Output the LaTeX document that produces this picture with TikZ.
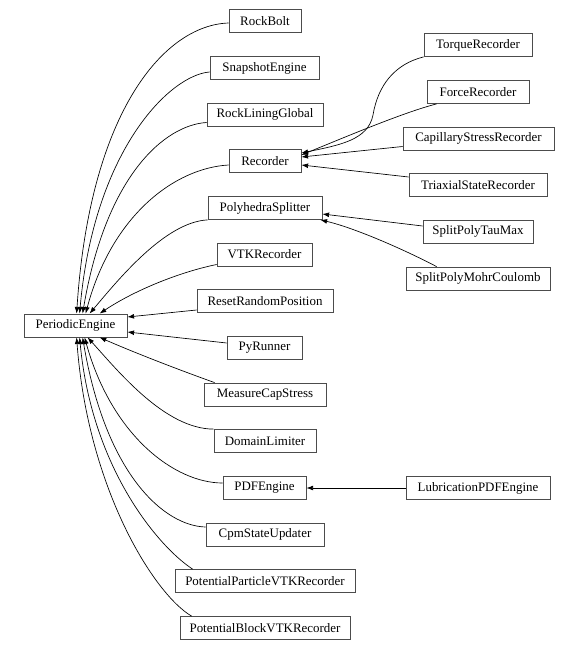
\documentclass[tikz,border=0pt]{standalone}
\usepackage{fontspec}
\setmainfont{Liberation Serif}
\usetikzlibrary{calc,arrows.meta}
\begin{document}
\begin{tikzpicture}[x=0.75pt,y=-0.75pt,
  box/.style={draw=black!70, line width=0.6pt, minimum height=17.25pt, inner sep=0pt,
    font=\fontsize{9.7}{11}\selectfont, fill=white},
  edge/.style={line width=0.5pt, black, -{Latex[length=5pt,width=3.6pt]}}]
\useasboundingbox (0,0) rectangle (578,650);
% left column
\node[box, minimum width=77.25pt] (pe) at (75.5,325.5) {PeriodicEngine};
% middle column
\node[box, minimum width=54pt]    (rb)  at (265,21)    {RockBolt};
\node[box, minimum width=81.75pt] (se)  at (264.5,68)  {SnapshotEngine};
\node[box, minimum width=87pt]    (rl)  at (265,114.5) {RockLiningGlobal};
\node[box, minimum width=54pt]    (rec) at (265,161)   {Recorder};
\node[box, minimum width=85.5pt]  (ps)  at (265,208)   {PolyhedraSplitter};
\node[box, minimum width=71.25pt] (vtk) at (264.5,254.5) {VTKRecorder};
\node[box, minimum width=102pt]   (rr)  at (265,301)   {ResetRandomPosition};
\node[box, minimum width=56.25pt] (py)  at (264.5,348) {PyRunner};
\node[box, minimum width=91.5pt]  (mc)  at (265,394.5) {MeasureCapStress};
\node[box, minimum width=76.5pt]  (dl)  at (265,441)   {DomainLimiter};
\node[box, minimum width=62.25pt] (pdf) at (264.5,488) {PDFEngine};
\node[box, minimum width=88.5pt]  (cpm) at (265,534.5) {CpmStateUpdater};
\node[box, minimum width=135pt]   (pp)  at (265,581)   {PotentialParticleVTKRecorder};
\node[box, minimum width=127.5pt] (pb)  at (265,628)   {PotentialBlockVTKRecorder};
% right column
\node[box, minimum width=81pt]    (tq)  at (478,45)    {TorqueRecorder};
\node[box, minimum width=76.5pt]  (fr)  at (478,92)    {ForceRecorder};
\node[box, minimum width=113.25pt] (cap) at (478.5,138.5) {CapillaryStressRecorder};
\node[box, minimum width=103.5pt] (tri) at (478,185)   {TriaxialStateRecorder};
\node[box, minimum width=82.5pt]  (spt) at (478,231.5) {SplitPolyTauMax};
\node[box, minimum width=108pt]   (spm) at (478,278.5) {SplitPolyMohrCoulomb};
\node[box, minimum width=108pt]   (lub) at (478,488)   {LubricationPDFEngine};
% edges into PeriodicEngine (top)
\draw[edge] ($(rb.west)+(0,2)$) .. controls (165,25) and (90,110) .. ($(pe.north west)+(53,0)$);
\draw[edge] ($(se.west)+(0,4)$) .. controls (170,75) and (94,150) .. ($(pe.north west)+(56,0)$);
\draw[edge] ($(rl.west)+(0,8)$) .. controls (165,125) and (106,175) .. ($(pe.north west)+(59,0)$);
\draw[edge] ($(rec.west)+(0,4)$) .. controls (175,168) and (112,215) .. ($(pe.north west)+(62,0)$);
\draw[edge] (ps.south west) .. controls (165,222) and (118,280) .. ($(pe.north west)+(66,0)$);
\draw[edge] ($(vtk.west)+(0,10)$) .. controls (180,272) and (135,290) .. ($(pe.north west)+(76,0)$);
% straight ones
\draw[edge] ($(rr.west)+(0,9)$) -- ($(pe.east)+(0,-8.5)$);
\draw[edge] ($(py.west)+(0,-5)$) -- ($(pe.east)+(0,6.5)$);
% edges into PeriodicEngine (bottom)
\draw[edge] ($(mc.north west)+(11,0)$) .. controls (185,372) and (140,355) .. ($(pe.south west)+(76,0)$);
\draw[edge] (dl.north west) .. controls (165,429) and (118,371) .. ($(pe.south west)+(64,0)$);
\draw[edge] ($(pdf.west)+(0,-5)$) .. controls (175,483) and (112,436) .. ($(pe.south west)+(61,0)$);
\draw[edge] ($(cpm.west)+(0,-7.5)$) .. controls (165,526) and (106,476) .. ($(pe.south west)+(59,0)$);
\draw[edge] ($(pp.north west)+(18,0)$) .. controls (160,548) and (92,470) .. ($(pe.south west)+(56,0)$);
\draw[edge] ($(pb.north west)+(12,0)$) .. controls (155,595) and (88,490) .. ($(pe.south west)+(53,0)$);
% edges into Recorder
\draw[edge] (tq.south west) .. controls (395,64) and (378,85) .. (373,115)
  .. controls (368,140) and (340,145) .. ($(rec.east)+(0,-8)$);
\draw[edge] ($(fr.south west)+(10,0)$) .. controls (405,112) and (350,135) .. ($(rec.east)+(0,-6)$);
\draw[edge] ($(cap.west)+(0,8)$) -- ($(rec.east)+(0,-4)$);
\draw[edge] ($(tri.west)+(0,-8)$) -- ($(rec.east)+(0,4)$);
% edges into PolyhedraSplitter
\draw[edge] ($(spt.west)+(0,-5.5)$) -- ($(ps.east)+(0,6)$);
\draw[edge] ($(spm.north west)+(31,0)$) .. controls (405,250) and (355,228) .. ($(ps.south east)+(-2,0)$);
% edge into PDFEngine
\draw[edge] (lub.west) -- (pdf.east);
\end{tikzpicture}
\end{document}
